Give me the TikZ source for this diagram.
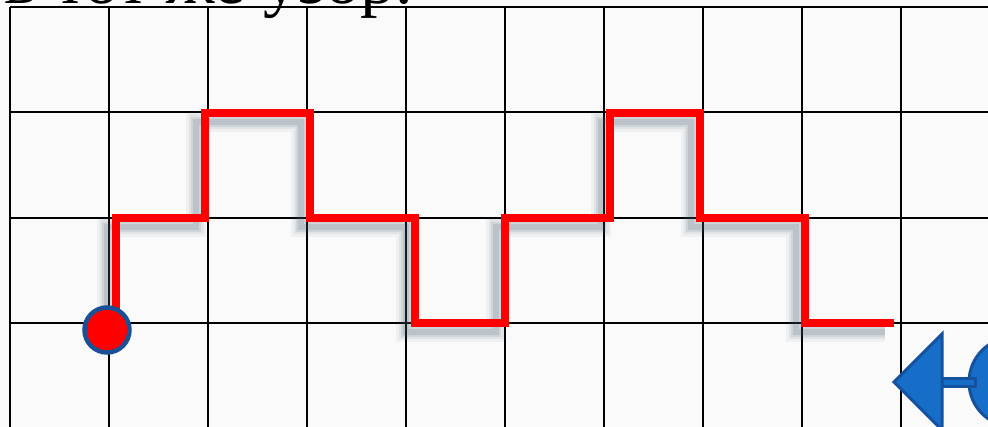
\documentclass[tikz,border=0pt]{standalone}
\usepackage{fontspec}
\setmainfont{Liberation Serif}
\definecolor{bgc}{RGB}{250,250,250}
\definecolor{shadowc}{RGB}{70,88,110}
\definecolor{btnfill}{RGB}{22,110,200}
\definecolor{btnedge}{RGB}{20,82,160}
\definecolor{ringc}{RGB}{25,80,150}
\tikzset{
  gridline/.style={black, line width=2pt},
  redpath/.style={red, line width=7.5pt, line cap=butt, line join=miter},
  shadowpath/.style={shadowc, line cap=butt, line join=miter},
  btn/.style={fill=btnfill, draw=btnedge, line width=3pt, line join=miter},
  startdot/.style={circle, fill=red, draw=ringc, line width=4.5pt, minimum size=45pt, inner sep=0pt}
}
\begin{document}
\begin{tikzpicture}[x=1pt,y=-1pt]
\useasboundingbox (0,0) rectangle (988,427);
\clip (0,0) rectangle (988,427);
\fill[bgc] (0,0) rectangle (988,427);
% title text (cut off)
\node[anchor=base east, inner sep=0pt, font=\fontsize{70}{70}\selectfont] (title) at (413,4) {в тот же узор.};
% grid
\foreach \x in {10,109,208,307,406,505,604,703,802,901}
  \draw[gridline] (\x,7) -- (\x,430);
\foreach \y in {7,112.5,218,323}
  \draw[gridline] (10,\y) -- (990,\y);
% shadow
\foreach \w/\o in {20/0.06,15/0.08,10/0.11,6/0.14}
  \draw[shadowpath, line width=\w pt, opacity=\o, xshift=-9pt, yshift=-9pt]
    (116,312) -- (116,218) -- (205,218) -- (205,113) -- (310,113) -- (310,218)
    -- (415,218) -- (415,323) -- (505,323) -- (505,218) -- (610,218) -- (610,113)
    -- (700,113) -- (700,218) -- (805,218) -- (805,323) -- (894,323);
% red path
\draw[redpath]
  (116,320) -- (116,218) -- (205,218) -- (205,113) -- (310,113) -- (310,218)
  -- (415,218) -- (415,323) -- (505,323) -- (505,218) -- (610,218) -- (610,113)
  -- (700,113) -- (700,218) -- (805,218) -- (805,323) -- (894,323);
% start dot
\node[startdot] (start) at (107,330) {};
% back button
\draw[btn] (1014,382) circle (45);
\draw[btn] (940,378.5) rectangle (975,386.5);
\draw[btn] (894,382) -- (942,334) -- (942,430) -- cycle;
\end{tikzpicture}
\end{document}
